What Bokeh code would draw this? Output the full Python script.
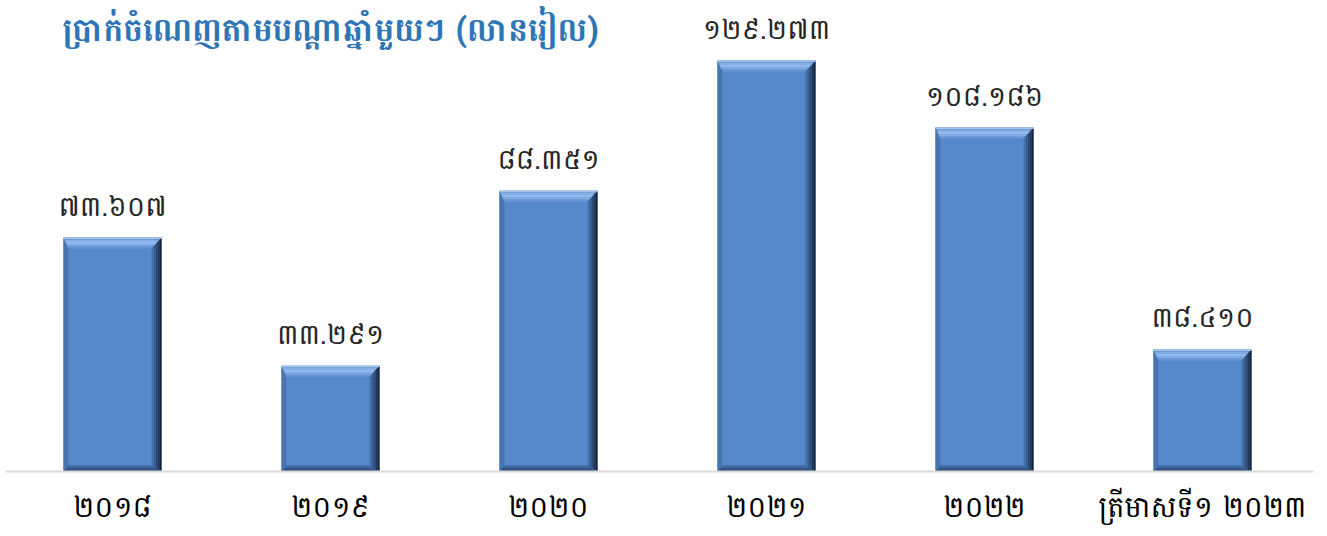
from bokeh.plotting import figure
from bokeh.models import ColumnDataSource, Range1d, FixedTicker, Label
from bokeh.core.properties import value
from bokeh.embed import file_html
from bokeh.resources import INLINE

categories = ["២០១៨", "២០១៩", "២០២០", "២០២១", "២០២២", "ត្រីមាសទី១ ២០២៣"]
values = [73.607, 33.291, 88.351, 129.273, 108.186, 38.410]
title_text = "ប្រាក់ចំណេញតាមបណ្តាឆ្នាំមួយៗ (លានរៀល)"

KH = str.maketrans("0123456789", "០១២៣៤៥៦៧៨៩")
labels = [f"{v:.3f}".translate(KH) for v in values]
xs = list(range(len(categories)))

FONT = "Battambang, Noto Sans Khmer, sans-serif"

W, H = 1327, 536
PX_X = 218.0          # pixels per category
PX_Y = 3.179          # pixels per unit
LEFT = 5
RIGHT = W - 1313
BOTTOM = H - 471
x0 = -(112.0 - LEFT) / PX_X
frame_w = W - LEFT - RIGHT
frame_h = H - BOTTOM

p = figure(width=W, height=H, output_backend="svg", toolbar_location=None,
           x_range=Range1d(x0, x0 + frame_w / PX_X),
           y_range=Range1d(0, frame_h / PX_Y),
           min_border_left=LEFT, min_border_right=RIGHT, min_border_top=0,
           min_border_bottom=BOTTOM)
p.outline_line_color = None
p.xgrid.visible = False
p.ygrid.visible = False
p.yaxis.visible = False
p.background_fill_color = "white"
p.border_fill_color = "white"

half = 0.45 / 2
bt, br, bl, bb = 11 / PX_Y, 10 / PX_X, 5 / PX_X, 6 / PX_Y

src = ColumnDataSource(dict(x=xs, top=values, lab=labels))
p.vbar(x="x", top="top", width=0.45, bottom=0, source=src,
       fill_color="#5689CB", line_color=None)


def grad(n, c_from, c_to):
    def h2rgb(h):
        return tuple(int(h[i:i + 2], 16) for i in (1, 3, 5))
    a, b = h2rgb(c_from), h2rgb(c_to)
    out = []
    for i in range(n):
        t = i / max(n - 1, 1)
        out.append("#%02x%02x%02x" % tuple(int(a[k] + (b[k] - a[k]) * t) for k in range(3)))
    return out


pxs, pys, pcs = [], [], []
for x, v in zip(xs, values):
    L, R = x - half, x + half
    T, B = v, 0.0
    pxs.append([L, L + bl, L + bl, L]); pys.append([T, T - bt, B + bb, B]); pcs.append("#4874B0")
    nb = 3
    cols = grad(nb, "#3C67A0", "#25436D")
    for i in range(nb):
        f0, f1 = i / nb, (i + 1) / nb
        ya0, ya1 = B + bb * (1 - f0), B + bb * (1 - f1)
        xl0, xl1 = L + bl * (1 - f0), L + bl * (1 - f1)
        xr0, xr1 = R - br * (1 - f0), R - br * (1 - f1)
        pxs.append([xl0, xr0, xr1, xl1]); pys.append([ya0, ya0, ya1, ya1]); pcs.append(cols[i])
    cols = ["#6797D6", "#7FA9E2", "#93BAEC", "#85AEE6", "#6C9AD6"]
    nt = len(cols)
    for i in range(nt):
        f0, f1 = i / nt, (i + 1) / nt
        ya0, ya1 = T - bt * (1 - f0), T - bt * (1 - f1)
        xl0, xl1 = L + bl * (1 - f0), L + bl * (1 - f1)
        xr0, xr1 = R - br * (1 - f0), R - br * (1 - f1)
        pxs.append([xl0, xr0, xr1, xl1]); pys.append([ya0, ya0, ya1, ya1]); pcs.append(cols[i])
    nr = 5
    cols = grad(nr, "#4570A8", "#13213A")
    for i in range(nr):
        f0, f1 = i / nr, (i + 1) / nr
        xa, xb = R - br * (1 - f0), R - br * (1 - f1)
        pxs.append([xa, xb, xb, xa])
        pys.append([T - bt * (1 - f0), T - bt * (1 - f1), B + bb * (1 - f1), B + bb * (1 - f0)])
        pcs.append(cols[i])
    pxs.append([L, R, R, L]); pys.append([T, T, T - 1.5 / PX_Y, T - 1.5 / PX_Y]); pcs.append("#A7C3E6")

p.patches(xs=pxs, ys=pys, fill_color=pcs, line_color=None)

p.text(x="x", y="top", text="lab", source=src, text_align="center",
       text_baseline="bottom", y_offset=-6, text_font=value(FONT),
       text_font_size="28px", text_color="#262626")

p.xaxis.ticker = FixedTicker(ticks=xs)
p.xaxis.major_label_overrides = {i: c for i, c in zip(xs, categories)}
p.xaxis.major_tick_line_color = None
p.xaxis.minor_tick_line_color = None
p.xaxis.axis_line_color = "#D9D9D9"
p.xaxis.axis_line_width = 2
p.xaxis.major_label_standoff = 4
p.xaxis.major_label_text_font = FONT
p.xaxis.major_label_text_font_size = "29px"
p.xaxis.major_label_text_color = "#000000"

p.add_layout(Label(x=x0 + (62 - LEFT) / PX_X, y=frame_h / PX_Y, y_offset=0,
                   text=title_text, text_font=FONT, text_font_size="33px",
                   text_font_style="bold", text_color="#2E75B6",
                   text_baseline="top", text_align="left"))

open("out.html", "w").write(file_html(p, INLINE))
